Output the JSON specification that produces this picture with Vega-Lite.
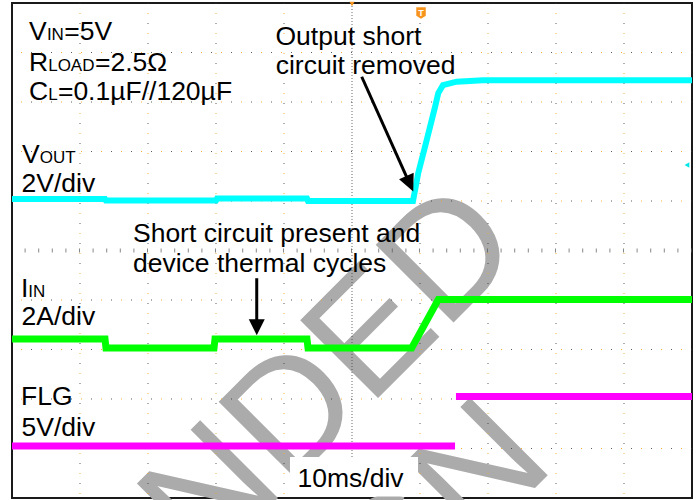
{
  "$schema": "https://vega.github.io/schema/vega-lite/v6.json",
  "width": 680,
  "height": 495,
  "autosize": {"type": "none"},
  "padding": {"left": 12, "top": 3, "right": 6, "bottom": 2},
  "background": "white",
  "config": {"view": {"stroke": "#1a1a1a", "strokeWidth": 2}, "text": {"font": "Liberation Sans"}},
  "datasets": {
    "vout": [
      {"x": -50, "y": 6.04}, {"x": -36.32, "y": 6.04}, {"x": -36.18, "y": 6.01}, {"x": -20.0, "y": 6.01},
      {"x": -19.85, "y": 6.05}, {"x": -6.62, "y": 6.05}, {"x": -6.47, "y": 6.0}, {"x": 8.97, "y": 6.0},
      {"x": 9.75, "y": 6.57}, {"x": 10.99, "y": 7.23}, {"x": 12.21, "y": 7.9}, {"x": 12.69, "y": 8.18},
      {"x": 13.38, "y": 8.34}, {"x": 15.4, "y": 8.41}, {"x": 19.26, "y": 8.44}, {"x": 50, "y": 8.44}
    ],
    "iin": [
      {"x": -50, "y": 3.21}, {"x": -36.32, "y": 3.21}, {"x": -36.18, "y": 3.03}, {"x": -20.29, "y": 3.03},
      {"x": -20.15, "y": 3.21}, {"x": -6.62, "y": 3.21}, {"x": -6.47, "y": 3.03}, {"x": 8.78, "y": 3.03},
      {"x": 12.69, "y": 4.01}, {"x": 50, "y": 4.01}
    ],
    "flg": [
      {"x": -50, "y": 1.05, "seg": "a"}, {"x": 15.15, "y": 1.05, "seg": "a"},
      {"x": 15.29, "y": 2.05, "seg": "b"}, {"x": 50, "y": 2.05, "seg": "b"}
    ],
    "vgrid": [{"x": -40}, {"x": -30}, {"x": -20}, {"x": -10}, {"x": 10}, {"x": 20}, {"x": 30}, {"x": 40}],
    "hgrid": [{"y": 1}, {"y": 2}, {"y": 3}, {"y": 4}, {"y": 6}, {"y": 7}, {"y": 8}, {"y": 9}],
    "labels": [
      {"x": -47.5, "y": 9.253, "text": "V"},
      {"x": -42.3, "y": 9.253, "text": "=5V"},
      {"x": -47.5, "y": 8.626, "text": "R"},
      {"x": -37.8, "y": 8.626, "text": "=2.5Ω"},
      {"x": -47.5, "y": 8.04, "text": "C"},
      {"x": -43.25, "y": 8.04, "text": "=0.1µF//120µF"},
      {"x": -48.53, "y": 6.768, "text": "V"},
      {"x": -48.6, "y": 6.182, "text": "2V/div"},
      {"x": -11.25, "y": 9.152, "text": "Output short"},
      {"x": -11.22, "y": 8.556, "text": "circuit removed"},
      {"x": -32.21, "y": 5.166, "text": "Short circuit present and"},
      {"x": -32.21, "y": 4.56, "text": "device thermal cycles"},
      {"x": -48.68, "y": 4.067, "text": "I"},
      {"x": -48.6, "y": 3.495, "text": "2A/div"},
      {"x": -48.68, "y": 1.879, "text": "FLG"},
      {"x": -48.6, "y": 1.259, "text": "5V/div"},
      {"x": -8.01, "y": 0.228, "text": "10ms/div"}
    ],
    "subs": [
      {"x": -44.87, "y": 9.253, "text": "IN"},
      {"x": -44.68, "y": 8.626, "text": "LOAD"},
      {"x": -44.68, "y": 8.04, "text": "L"},
      {"x": -45.93, "y": 6.768, "text": "OUT"},
      {"x": -47.6, "y": 4.067, "text": "IN"}
    ]
  },
  "layer": [
    {
      "data": {"values": [{"x": 25.59, "y": 5.01, "text": "NOT RECOMMENDED"}, {"x": 30.15, "y": 0.646, "text": "FOR NEW DESIGN"}]},
      "mark": {"type": "text", "font": "Liberation Sans", "fontSize": 160, "angle": 315, "align": "right", "baseline": "alphabetic", "color": "#ababab"},
      "encoding": {
        "x": {"field": "x", "type": "quantitative", "scale": {"domain": [-50, 50], "nice": false, "zero": false}, "axis": null},
        "y": {"field": "y", "type": "quantitative", "scale": {"domain": [0, 10], "nice": false, "zero": false}, "axis": null},
        "text": {"field": "text"}
      }
    },
    {
      "data": {"name": "vgrid"},
      "mark": {"type": "rule", "color": "#333333", "strokeWidth": 1, "strokeDash": [1, 19], "opacity": 0.8},
      "encoding": {"x": {"field": "x", "type": "quantitative", "scale": {"domain": [-50, 50], "nice": false, "zero": false}, "axis": null}}
    },
    {
      "data": {"name": "vgrid"},
      "mark": {"type": "rule", "color": "#f5a623", "strokeWidth": 1, "strokeDash": [1, 19], "strokeDashOffset": 10, "opacity": 0.9},
      "encoding": {"x": {"field": "x", "type": "quantitative", "scale": {"domain": [-50, 50], "nice": false, "zero": false}, "axis": null}}
    },
    {
      "data": {"name": "hgrid"},
      "mark": {"type": "rule", "color": "#333333", "strokeWidth": 1, "strokeDash": [1, 19], "opacity": 0.8},
      "encoding": {"y": {"field": "y", "type": "quantitative", "scale": {"domain": [0, 10], "nice": false, "zero": false}, "axis": null}}
    },
    {
      "data": {"name": "hgrid"},
      "mark": {"type": "rule", "color": "#f5a623", "strokeWidth": 1, "strokeDash": [1, 19], "strokeDashOffset": 10, "opacity": 0.9},
      "encoding": {"y": {"field": "y", "type": "quantitative", "scale": {"domain": [0, 10], "nice": false, "zero": false}, "axis": null}}
    },
    {
      "data": {"values": [{"x": 0}]},
      "mark": {"type": "rule", "color": "#444444", "strokeWidth": 1, "strokeDash": [1, 2], "opacity": 0.8},
      "encoding": {"x": {"field": "x", "type": "quantitative", "scale": {"domain": [-50, 50], "nice": false, "zero": false}, "axis": null}}
    },
    {
      "data": {"values": [{"y": 5}]},
      "mark": {"type": "rule", "color": "#555555", "strokeWidth": 4, "strokeDash": [1, 12.6], "opacity": 0.7},
      "encoding": {"y": {"field": "y", "type": "quantitative", "scale": {"domain": [0, 10], "nice": false, "zero": false}, "axis": null}}
    },
    {
      "data": {"values": [{"x": -9.12, "x2": 9.71, "y": 0.828, "y2": 0.03}]},
      "mark": {"type": "rect", "color": "white"},
      "encoding": {
        "x": {"field": "x", "type": "quantitative", "scale": {"domain": [-50, 50], "nice": false, "zero": false}, "axis": null},
        "x2": {"field": "x2"},
        "y": {"field": "y", "type": "quantitative", "scale": {"domain": [0, 10], "nice": false, "zero": false}, "axis": null},
        "y2": {"field": "y2"}
      }
    },
    {
      "data": {"name": "vout"},
      "mark": {"type": "line", "color": "#00ffff", "strokeWidth": 6, "strokeJoin": "miter", "strokeCap": "butt"},
      "encoding": {
        "x": {"field": "x", "type": "quantitative", "scale": {"domain": [-50, 50], "nice": false, "zero": false}, "axis": null},
        "y": {"field": "y", "type": "quantitative", "scale": {"domain": [0, 10], "nice": false, "zero": false}, "axis": null}
      }
    },
    {
      "data": {"name": "iin"},
      "mark": {"type": "line", "color": "#00ff00", "strokeWidth": 7, "strokeJoin": "miter", "strokeCap": "butt"},
      "encoding": {
        "x": {"field": "x", "type": "quantitative", "scale": {"domain": [-50, 50], "nice": false, "zero": false}, "axis": null},
        "y": {"field": "y", "type": "quantitative", "scale": {"domain": [0, 10], "nice": false, "zero": false}, "axis": null}
      }
    },
    {
      "data": {"name": "flg"},
      "mark": {"type": "line", "color": "#ff00ff", "strokeWidth": 7, "strokeCap": "butt"},
      "encoding": {
        "x": {"field": "x", "type": "quantitative", "scale": {"domain": [-50, 50], "nice": false, "zero": false}, "axis": null},
        "y": {"field": "y", "type": "quantitative", "scale": {"domain": [0, 10], "nice": false, "zero": false}, "axis": null},
        "detail": {"field": "seg"}
      }
    },
    {
      "data": {"values": [{"x": 1.43, "y": 8.51, "x2": 8.41, "y2": 6.37}, {"x": -14.01, "y": 4.44, "x2": -14.01, "y2": 3.49}]},
      "mark": {"type": "rule", "color": "black", "strokeWidth": 3},
      "encoding": {
        "x": {"field": "x", "type": "quantitative", "scale": {"domain": [-50, 50], "nice": false, "zero": false}, "axis": null},
        "x2": {"field": "x2"},
        "y": {"field": "y", "type": "quantitative", "scale": {"domain": [0, 10], "nice": false, "zero": false}, "axis": null},
        "y2": {"field": "y2"}
      }
    },
    {
      "data": {"values": [{"x": 9.01, "y": 6.19}]},
      "mark": {"type": "point", "shape": "M0,0L-0.8,-1.7L0.8,-1.7Z", "size": 400, "filled": true, "color": "black", "opacity": 1, "angle": 336, "strokeWidth": 0},
      "encoding": {
        "x": {"field": "x", "type": "quantitative", "scale": {"domain": [-50, 50], "nice": false, "zero": false}, "axis": null},
        "y": {"field": "y", "type": "quantitative", "scale": {"domain": [0, 10], "nice": false, "zero": false}, "axis": null}
      }
    },
    {
      "data": {"values": [{"x": -14.01, "y": 3.29}]},
      "mark": {"type": "point", "shape": "M0,0L-0.8,-1.6L0.8,-1.6Z", "size": 400, "filled": true, "color": "black", "opacity": 1, "strokeWidth": 0},
      "encoding": {
        "x": {"field": "x", "type": "quantitative", "scale": {"domain": [-50, 50], "nice": false, "zero": false}, "axis": null},
        "y": {"field": "y", "type": "quantitative", "scale": {"domain": [0, 10], "nice": false, "zero": false}, "axis": null}
      }
    },
    {
      "data": {"name": "labels"},
      "mark": {"type": "text", "fontSize": 26.5, "align": "left", "baseline": "alphabetic", "color": "black"},
      "encoding": {
        "x": {"field": "x", "type": "quantitative", "scale": {"domain": [-50, 50], "nice": false, "zero": false}, "axis": null},
        "y": {"field": "y", "type": "quantitative", "scale": {"domain": [0, 10], "nice": false, "zero": false}, "axis": null},
        "text": {"field": "text"}
      }
    },
    {
      "data": {"name": "subs"},
      "mark": {"type": "text", "fontSize": 17, "align": "left", "baseline": "alphabetic", "color": "black"},
      "encoding": {
        "x": {"field": "x", "type": "quantitative", "scale": {"domain": [-50, 50], "nice": false, "zero": false}, "axis": null},
        "y": {"field": "y", "type": "quantitative", "scale": {"domain": [0, 10], "nice": false, "zero": false}, "axis": null},
        "text": {"field": "text"}
      }
    },
    {
      "data": {"values": [{"x": 10.15, "y": 9.798}]},
      "mark": {"type": "point", "shape": "M-1,-1.2L1,-1.2L1,0.6L0,1.2L-1,0.6Z", "size": 90, "filled": true, "color": "#f7941d", "opacity": 1, "strokeWidth": 0},
      "encoding": {
        "x": {"field": "x", "type": "quantitative", "scale": {"domain": [-50, 50], "nice": false, "zero": false}, "axis": null},
        "y": {"field": "y", "type": "quantitative", "scale": {"domain": [0, 10], "nice": false, "zero": false}, "axis": null}
      }
    },
    {
      "data": {"values": [{"x": 10.15, "y": 9.798, "text": "T"}]},
      "mark": {"type": "text", "fontSize": 9, "fontWeight": "bold", "align": "center", "baseline": "middle", "color": "white"},
      "encoding": {
        "x": {"field": "x", "type": "quantitative", "scale": {"domain": [-50, 50], "nice": false, "zero": false}, "axis": null},
        "y": {"field": "y", "type": "quantitative", "scale": {"domain": [0, 10], "nice": false, "zero": false}, "axis": null},
        "text": {"field": "text"}
      }
    },
    {
      "data": {"values": [{"x": 0, "y": 9.98}]},
      "mark": {"type": "point", "shape": "triangle-down", "size": 25, "filled": true, "color": "#f7941d", "opacity": 1},
      "encoding": {
        "x": {"field": "x", "type": "quantitative", "scale": {"domain": [-50, 50], "nice": false, "zero": false}, "axis": null},
        "y": {"field": "y", "type": "quantitative", "scale": {"domain": [0, 10], "nice": false, "zero": false}, "axis": null}
      }
    },
    {
      "data": {"values": [{"x": 49.26, "y": 6.727}]},
      "mark": {"type": "point", "shape": "triangle-left", "size": 30, "filled": true, "color": "#00e5e5", "opacity": 1},
      "encoding": {
        "x": {"field": "x", "type": "quantitative", "scale": {"domain": [-50, 50], "nice": false, "zero": false}, "axis": null},
        "y": {"field": "y", "type": "quantitative", "scale": {"domain": [0, 10], "nice": false, "zero": false}, "axis": null}
      }
    }
  ]
}
